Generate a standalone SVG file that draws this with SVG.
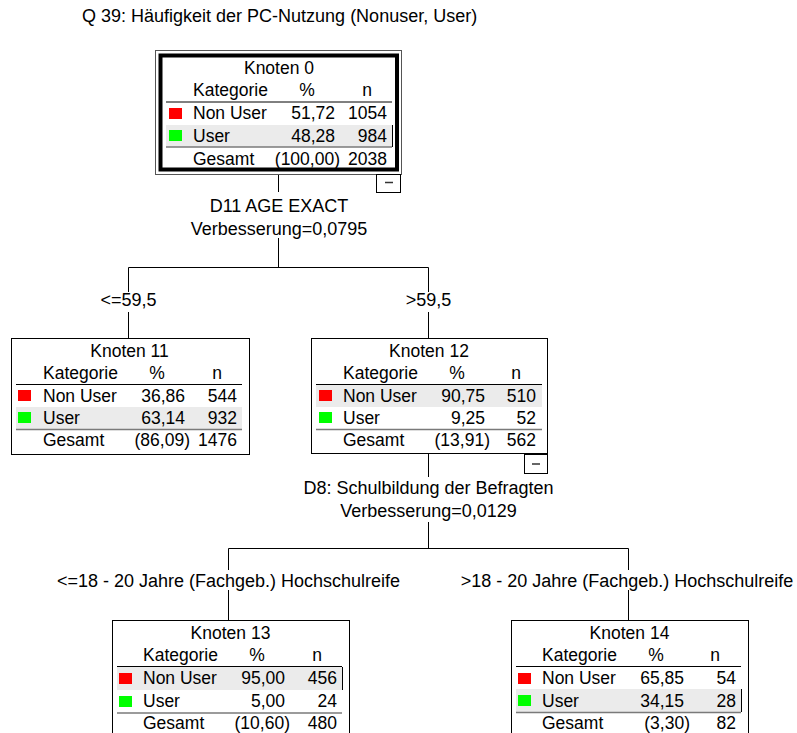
<svg xmlns="http://www.w3.org/2000/svg" width="797" height="733" viewBox="0 0 797 733">
<style>
text{font-family:"Liberation Sans",Arial,sans-serif;fill:#000}
.t{font-size:17.5px}
.lb{font-size:18px;text-anchor:middle}
.m{text-anchor:middle}
.e{text-anchor:end}
.box{fill:#fff;stroke:#000;stroke-width:1}
.sep{stroke:#000;stroke-width:1}
.gl{stroke:#7a7a7a;stroke-width:1.5}
.hl{fill:#ebebeb}
.rl{stroke:#000;stroke-width:1}
.red{fill:#ff0000}
.grn{fill:#00ff00}
.cn{stroke:#000;stroke-width:1;fill:none}
.mb{fill:#fff;stroke:#000;stroke-width:1}
.md{stroke:#333;stroke-width:1.5}
</style>
<rect width="797" height="733" fill="#fff"/>
<text class="lb" x="82" y="22" style="text-anchor:start">Q 39: Häufigkeit der PC-Nutzung (Nonuser, User)</text>

<g id="connectors">
<path class="cn" d="M278.5 174.5V192 M278.5 238V267.5 M128.5 267.5H428.5 M128.5 267.5V292 M428.5 267.5V292 M128.5 312V338 M428.5 312V338 M428.5 454V477 M428.5 522V548.5 M228.5 548.5H628.5 M228.5 548.5V570 M628.5 548.5V570 M228.5 590V621 M628.5 590V621"/>
<text class="lb" x="279" y="211.5">D11 AGE EXACT</text>
<text class="lb" x="279" y="235">Verbesserung=0,0795</text>
<text class="lb" x="128.5" y="306">&lt;=59,5</text>
<text class="lb" x="428.5" y="306">&gt;59,5</text>
<text class="lb" x="428.5" y="494">D8: Schulbildung der Befragten</text>
<text class="lb" x="428.5" y="517">Verbesserung=0,0129</text>
<text class="lb" x="228.5" y="587">&lt;=18 - 20 Jahre (Fachgeb.) Hochschulreife</text>
<text class="lb" x="627" y="587">&gt;18 - 20 Jahre (Fachgeb.) Hochschulreife</text>
</g>

<g id="node0">
<rect x="155.5" y="50.5" width="246" height="124" fill="#fff" stroke="#555" stroke-width="1"/>
<rect x="160.5" y="55.5" width="236.5" height="114" fill="#fff" stroke="#000" stroke-width="4"/>
<rect class="hl" x="166" y="125" width="226" height="22"/>
<line class="rl" x1="392.5" y1="125" x2="392.5" y2="147"/>
<line class="sep" x1="166" y1="102" x2="392" y2="102"/>
<line class="gl" x1="166" y1="147" x2="392" y2="147"/>
<text class="t m" x="279" y="74">Knoten 0</text>
<text class="t" x="193" y="96">Kategorie</text>
<text class="t m" x="307" y="96">%</text>
<text class="t m" x="367" y="96">n</text>
<rect class="red" x="169" y="108" width="13" height="11"/>
<text class="t" x="193" y="119">Non User</text>
<text class="t e" x="335" y="119">51,72</text>
<text class="t e" x="387" y="119">1054</text>
<rect class="grn" x="169" y="130" width="13" height="11"/>
<text class="t" x="193" y="142">User</text>
<text class="t e" x="335" y="142">48,28</text>
<text class="t e" x="387" y="142">984</text>
<text class="t" x="193" y="164.5">Gesamt</text>
<text class="t e" x="340" y="164.5">(100,00)</text>
<text class="t e" x="387" y="164.5">2038</text>
<rect class="mb" x="376.5" y="174.5" width="24" height="18"/>
<line class="md" x1="385" y1="182.5" x2="393" y2="182.5"/>
</g>

<g id="node11">
<rect class="box" x="11.5" y="338.5" width="238" height="116"/>
<rect class="hl" x="16" y="407" width="226" height="22"/>
<line class="sep" x1="16" y1="384.5" x2="242" y2="384.5"/>
<line class="gl" x1="16" y1="429.5" x2="242" y2="429.5"/>
<text class="t m" x="129.5" y="357">Knoten 11</text>
<text class="t" x="43" y="379">Kategorie</text>
<text class="t m" x="157" y="379">%</text>
<text class="t m" x="217" y="379">n</text>
<rect class="red" x="18" y="390" width="13" height="11"/>
<text class="t" x="43" y="402">Non User</text>
<text class="t e" x="185" y="402">36,86</text>
<text class="t e" x="237" y="402">544</text>
<rect class="grn" x="18" y="412" width="13" height="11"/>
<text class="t" x="43" y="424">User</text>
<text class="t e" x="185" y="424">63,14</text>
<text class="t e" x="237" y="424">932</text>
<text class="t" x="43" y="446">Gesamt</text>
<text class="t e" x="190" y="446">(86,09)</text>
<text class="t e" x="237" y="446">1476</text>
</g>

<g id="node12">
<rect class="box" x="311.5" y="338.5" width="236" height="115"/>
<rect class="hl" x="316" y="385" width="226" height="22"/>
<line class="sep" x1="316" y1="384.5" x2="542" y2="384.5"/>
<line class="gl" x1="316" y1="429.5" x2="542" y2="429.5"/>
<text class="t m" x="429" y="357">Knoten 12</text>
<text class="t" x="343" y="379">Kategorie</text>
<text class="t m" x="457" y="379">%</text>
<text class="t m" x="516" y="379">n</text>
<rect class="red" x="319" y="390" width="13" height="11"/>
<text class="t" x="343" y="402">Non User</text>
<text class="t e" x="485" y="402">90,75</text>
<text class="t e" x="536" y="402">510</text>
<rect class="grn" x="319" y="412" width="13" height="11"/>
<text class="t" x="343" y="424">User</text>
<text class="t e" x="485" y="424">9,25</text>
<text class="t e" x="536" y="424">52</text>
<text class="t" x="343" y="446">Gesamt</text>
<text class="t e" x="490" y="446">(13,91)</text>
<text class="t e" x="536" y="446">562</text>
<rect class="mb" x="524.5" y="454.5" width="23" height="19"/>
<line class="md" x1="532" y1="464" x2="540" y2="464"/>
</g>

<g id="node13">
<rect class="box" x="112.5" y="620.5" width="237" height="116"/>
<rect class="hl" x="117" y="667" width="225" height="23"/>
<line class="rl" x1="342.5" y1="667" x2="342.5" y2="690"/>
<line class="sep" x1="117" y1="666.5" x2="342" y2="666.5"/>
<line class="gl" x1="117" y1="713" x2="342" y2="713"/>
<text class="t m" x="230.5" y="639">Knoten 13</text>
<text class="t" x="143" y="661">Kategorie</text>
<text class="t m" x="257" y="661">%</text>
<text class="t m" x="317" y="661">n</text>
<rect class="red" x="119" y="673" width="13" height="11"/>
<text class="t" x="143" y="684">Non User</text>
<text class="t e" x="285" y="684">95,00</text>
<text class="t e" x="337" y="684">456</text>
<rect class="grn" x="119" y="696" width="13" height="11"/>
<text class="t" x="143" y="707">User</text>
<text class="t e" x="285" y="707">5,00</text>
<text class="t e" x="337" y="707">24</text>
<text class="t" x="143" y="729">Gesamt</text>
<text class="t e" x="290" y="729">(10,60)</text>
<text class="t e" x="337" y="729">480</text>
</g>

<g id="node14">
<rect class="box" x="511.5" y="620.5" width="237" height="116"/>
<rect class="hl" x="516" y="689" width="225" height="23"/>
<line class="rl" x1="741.5" y1="689" x2="741.5" y2="712"/>
<line class="sep" x1="516" y1="666.5" x2="741" y2="666.5"/>
<line class="gl" x1="516" y1="712.5" x2="741" y2="712.5"/>
<text class="t m" x="629.5" y="639">Knoten 14</text>
<text class="t" x="542" y="661">Kategorie</text>
<text class="t m" x="656" y="661">%</text>
<text class="t m" x="715" y="661">n</text>
<rect class="red" x="518" y="673" width="13" height="11"/>
<text class="t" x="542" y="684">Non User</text>
<text class="t e" x="684" y="684">65,85</text>
<text class="t e" x="736" y="684">54</text>
<rect class="grn" x="518" y="695" width="13" height="11"/>
<text class="t" x="542" y="707">User</text>
<text class="t e" x="684" y="707">34,15</text>
<text class="t e" x="736" y="707">28</text>
<text class="t" x="542" y="729">Gesamt</text>
<text class="t e" x="690" y="729">(3,30)</text>
<text class="t e" x="736" y="729">82</text>
</g>
</svg>
